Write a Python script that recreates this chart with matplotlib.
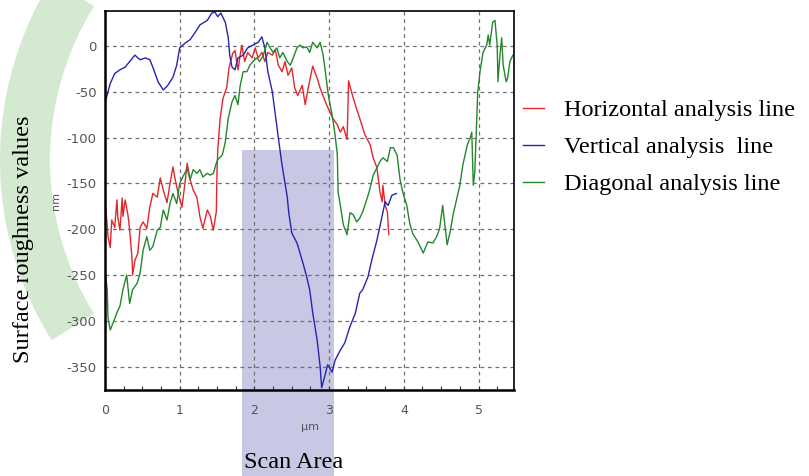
"""
Surface roughness line profiles (AFM scan) -- horizontal, vertical and diagonal
analysis lines across the scan area.
"""

import matplotlib
matplotlib.use("Agg")
import matplotlib.pyplot as plt
from matplotlib.patches import Rectangle, Wedge
from matplotlib.ticker import MultipleLocator

# ---- profile data (x in um, height in nm) ----
horiz_x = [0.01, 0.04, 0.07, 0.09, 0.13, 0.16, 0.17, 0.20, 0.23, 0.24, 0.27, 0.31,
           0.33, 0.36, 0.37, 0.40, 0.44, 0.47, 0.51, 0.56, 0.60, 0.64, 0.70, 0.74,
           0.78, 0.83, 0.87, 0.91, 0.94, 0.98, 1.03, 1.07, 1.10, 1.14, 1.18, 1.23,
           1.27, 1.31, 1.37, 1.41, 1.45, 1.49, 1.50, 1.51, 1.54, 1.58, 1.63, 1.66,
           1.71, 1.74, 1.78, 1.83, 1.87, 1.91, 1.97, 2.01, 2.05, 2.10, 2.14, 2.18,
           2.24, 2.28, 2.32, 2.37, 2.41, 2.45, 2.50, 2.54, 2.58, 2.64, 2.68, 2.72,
           2.78, 2.84, 2.88, 2.95, 3.01, 3.05, 3.11, 3.15, 3.19, 3.24, 3.25, 3.26,
           3.31, 3.35, 3.41, 3.48, 3.55, 3.59, 3.64, 3.68, 3.71, 3.72, 3.75, 3.78,
           3.79, 3.80]
horiz_y = [-176, -208, -220, -190, -198, -168, -186, -201, -166, -186, -168, -186,
           -201, -230, -250, -234, -226, -198, -192, -199, -176, -161, -165, -144,
           -157, -171, -150, -132, -146, -161, -176, -150, -128, -146, -157, -165,
           -186, -199, -179, -186, -201, -181, -135, -113, -80, -57, -45, -24,
           -8, -5, -26, 1, -17, -7, -13, -2, -13, -7, -17, -7,
           -10, -4, -21, -28, -17, -32, -24, -46, -54, -43, -64, -46,
           -22, -35, -46, -61, -72, -79, -86, -94, -88, -102, -75, -38,
           -53, -64, -79, -97, -108, -122, -133, -159, -170, -152, -174, -181,
           -195, -206]

vert_x = [0.01, 0.07, 0.13, 0.20, 0.27, 0.33, 0.40, 0.47, 0.54, 0.60, 0.64, 0.71,
          0.78, 0.84, 0.91, 0.96, 1.00, 1.07, 1.14, 1.20, 1.27, 1.37, 1.43, 1.47,
          1.51, 1.55, 1.61, 1.65, 1.67, 1.70, 1.74, 1.78, 1.85, 1.91, 1.98, 2.05,
          2.10, 2.14, 2.18, 2.24, 2.28, 2.32, 2.37, 2.44, 2.46, 2.50, 2.57, 2.61,
          2.65, 2.70, 2.74, 2.78, 2.84, 2.88, 2.90, 2.94, 2.98, 3.04, 3.08, 3.15,
          3.21, 3.28, 3.35, 3.41, 3.45, 3.52, 3.57, 3.64, 3.68, 3.75, 3.79, 3.84,
          3.90]
vert_y = [-59, -41, -30, -26, -23, -17, -10, -15, -13, -15, -23, -39,
          -48, -43, -34, -21, -2, 3, 7, 14, 23, 28, 36, 37,
          32, 36, 26, 9, -10, -23, -26, -13, -10, -2, 1, 4,
          10, -2, -28, -50, -75, -100, -130, -165, -182, -204, -215, -226,
          -237, -252, -266, -291, -321, -350, -373, -361, -348, -356, -343, -332,
          -324, -306, -292, -270, -266, -252, -234, -212, -197, -170, -174, -163,
          -161]

diag_x = [0.01, 0.03, 0.04, 0.07, 0.11, 0.16, 0.20, 0.24, 0.29, 0.33, 0.37, 0.43,
          0.47, 0.51, 0.56, 0.60, 0.64, 0.70, 0.74, 0.78, 0.83, 0.87, 0.91, 0.96,
          1.00, 1.04, 1.10, 1.14, 1.18, 1.23, 1.27, 1.31, 1.37, 1.41, 1.45, 1.49,
          1.51, 1.57, 1.61, 1.65, 1.70, 1.74, 1.78, 1.81, 1.85, 1.90, 1.94, 1.98,
          2.03, 2.07, 2.12, 2.17, 2.21, 2.25, 2.30, 2.34, 2.38, 2.44, 2.48, 2.52,
          2.57, 2.61, 2.65, 2.70, 2.74, 2.78, 2.84, 2.88, 2.92, 2.95, 2.99, 3.04,
          3.08, 3.11, 3.12, 3.15, 3.19, 3.24, 3.28, 3.32, 3.37, 3.41, 3.45, 3.51,
          3.55, 3.59, 3.64, 3.68, 3.72, 3.78, 3.82, 3.86, 3.91, 3.95, 3.99, 4.04,
          4.08, 4.12, 4.19, 4.26, 4.32, 4.39, 4.44, 4.48, 4.52, 4.55, 4.58, 4.62,
          4.66, 4.71, 4.75, 4.79, 4.85, 4.89, 4.91, 4.93, 4.95, 4.98, 4.99, 5.02,
          5.06, 5.11, 5.13, 5.15, 5.19, 5.22, 5.25, 5.26, 5.29, 5.31, 5.33, 5.37,
          5.39, 5.42, 5.46]
diag_y = [-252, -266, -296, -310, -302, -291, -284, -266, -250, -281, -266, -259,
          -248, -223, -208, -223, -219, -201, -198, -179, -190, -172, -161, -172,
          -150, -143, -134, -146, -135, -139, -135, -143, -139, -141, -139, -128,
          -124, -119, -105, -79, -61, -54, -64, -43, -28, -28, -21, -17,
          -13, -17, -10, 4, -2, -7, -2, -13, -7, -17, -21, -13,
          -2, 1, -2, -1, -7, 4, -2, 4, -10, -28, -54, -75,
          -97, -119, -159, -174, -195, -206, -182, -184, -192, -188, -181, -166,
          -155, -141, -133, -126, -122, -126, -111, -111, -119, -146, -161, -174,
          -194, -205, -214, -226, -214, -215, -208, -199, -174, -195, -217, -203,
          -184, -166, -152, -130, -108, -100, -94, -152, -138, -72, -50, -28,
          -7, 1, 12, 1, 26, 28, 1, -39, -7, 9, -21, -39,
          -35, -17, -10]

labels = ["Horizontal analysis line", "Vertical analysis  line", "Diagonal analysis line"]
colors = ["#e3262c", "#2525b0", "#24872c"]
x_ticks = [0, 1, 2, 3, 4, 5]
y_ticks = [-350, -300, -250, -200, -150, -100, -50, 0]

plt.rcParams["axes.unicode_minus"] = False

fig = plt.figure(figsize=(8.09, 4.76), dpi=100)

# faint watermark shapes behind the chart
fig.patches.append(Rectangle((242 / 809, 0), 92 / 809, 1 - 150 / 476,
                             transform=fig.transFigure, color="#c8c8e4",
                             zorder=-2, lw=0))
fig.patches.append(Wedge((3.4, 3.16), 3.4, 148, 212, width=0.5,
                         transform=fig.dpi_scale_trans, color="#d3ead0",
                         zorder=-2, lw=0))

ax = fig.add_axes([105 / 809, 1 - 390 / 476, 409 / 809, 379 / 476])
ax.set_facecolor("none")

series = [(horiz_x, horiz_y), (vert_x, vert_y), (diag_x, diag_y)]
for (xs, ys), lab, c in zip(series, labels, colors):
    ax.plot(xs, ys, color=c, lw=1.0, label=lab)

ax.set_xlim(0, 5.475)
ax.set_ylim(-375.5, 38.2)
ax.set_xticks(x_ticks)
ax.set_yticks(y_ticks)
ax.xaxis.set_minor_locator(MultipleLocator(0.25))
ax.grid(True, which="major", color="#707070", ls=(0, (3, 3)), lw=0.9)
ax.tick_params(axis="x", which="both", direction="in", length=3, width=0.8,
               colors="#303030", labelcolor="#555555", labelsize=9, pad=10)
ax.tick_params(axis="y", length=0, labelcolor="#555555", labelsize=9.5, pad=6)
for side in ["left", "bottom"]:
    ax.spines[side].set_linewidth(1.8)
for side in ["top", "right"]:
    ax.spines[side].set_linewidth(1.2)

ax.set_ylabel("nm", fontsize=8, color="#555555", labelpad=4)
ax.set_xlabel("\u03bcm", fontsize=8, color="#555555", labelpad=4)

# outer captions
serif = ["Liberation Serif", "DejaVu Serif"]
fig.text(24 / 809, 1 - 239 / 476, "Surface roughness values", rotation=90,
         ha="center", va="center", fontsize=17.5, family=serif)
fig.text(294 / 809, 1 - 462 / 476, "Scan Area", ha="center", va="center",
         fontsize=17.5, family=serif)

ax.legend(loc="upper left", bbox_to_anchor=(523 / 809, 1 - 99 / 476),
          bbox_transform=fig.transFigure, frameon=False,
          prop={"family": serif, "size": 17.5}, handlelength=0.85,
          handletextpad=0.85, labelspacing=0.62, borderaxespad=0, borderpad=0)

fig.savefig("out.png", dpi=100)
